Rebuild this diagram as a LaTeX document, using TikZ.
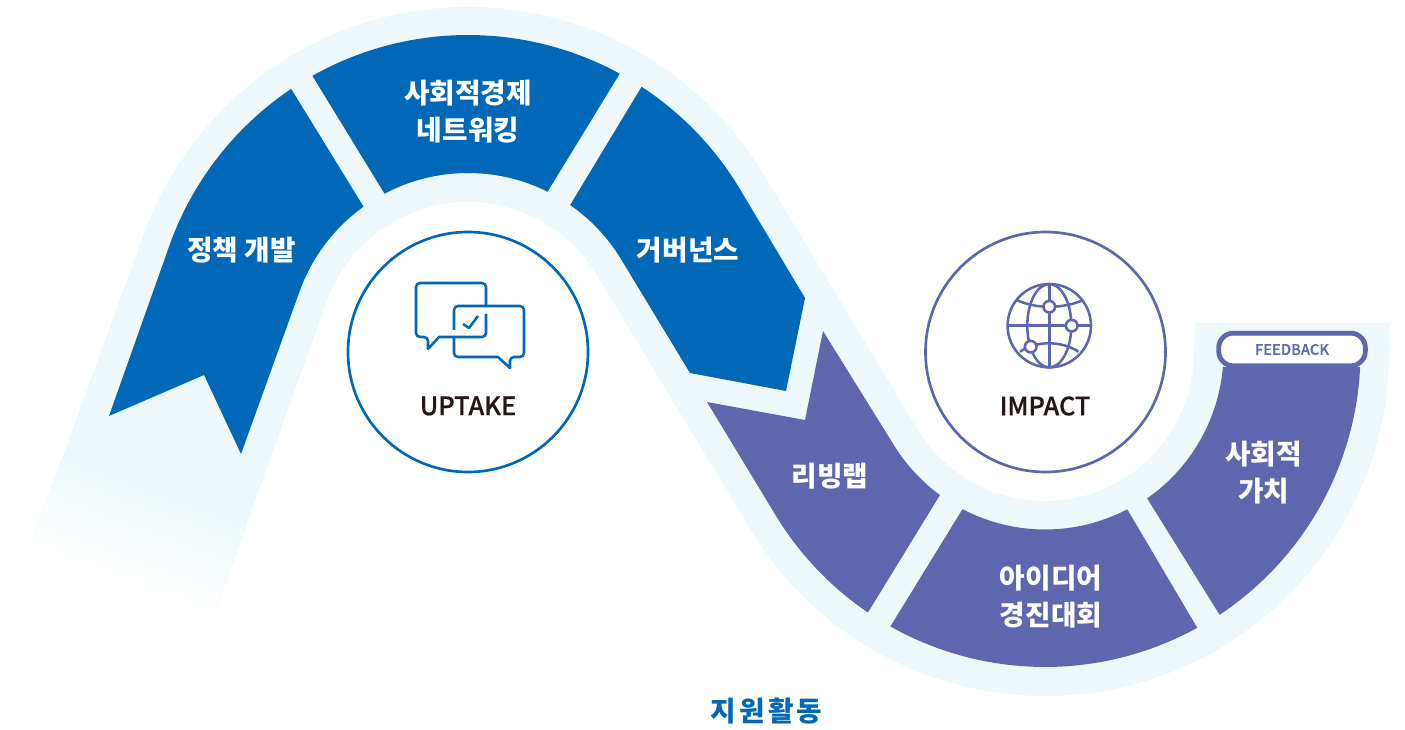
\documentclass[tikz,border=0pt]{standalone}
\usepackage{fontspec}
\newfontfamily\krfont{Noto Sans CJK KR}
\newfontfamily\krmed{Noto Sans CJK KR}[UprightFont=* Medium,FakeBold=0.5]
\newfontfamily\krpill{Noto Sans CJK KR}[UprightFont=* Medium,FakeBold=0.25]
\newfontfamily\krtitle{Noto Sans CJK KR}[LetterSpace=12]
\definecolor{lightband}{HTML}{EEF8FA}
\definecolor{bandblue}{HTML}{0068B7}
\definecolor{bandpurple}{HTML}{5E66AD}
\definecolor{inkdark}{HTML}{231815}
\tikzset{
  seglabel/.style={text=white,font=\krfont\bfseries\fontsize{20.8}{25}\selectfont,align=center,inner sep=0pt},
  headlabel/.style={text=inkdark,font=\krmed\fontsize{19}{23}\selectfont,inner sep=0pt},
  ringblue/.style={draw=bandblue,line width=2pt,fill=white},
  ringpurple/.style={draw=bandpurple,line width=2pt,fill=white},
  iconblue/.style={draw=bandblue,line width=1.9pt,line join=round},
  iconpurple/.style={draw=bandpurple,line width=1.9pt}
}
\begin{document}
\begin{tikzpicture}[x=0.75pt,y=-0.75pt]
\useasboundingbox (0,0) rectangle (1405,730);
\coordinate (c1) at (468,352);
\coordinate (c2) at (1045,352);
% light band
\begin{scope}[shift={(143.8,234)},rotate=-20]
  \foreach \i in {0,...,60}{
    \pgfmathsetmacro\tt{235+\i*101/60}
    \pgfmathsetmacro\pp{100*(1-\i/60)}
    \fill[lightband!\pp!white] (0,\tt) rectangle (196,336);
  }
  \coordinate (bl) at (0,236);
  \coordinate (br) at (196,236);
\end{scope}
\fill[lightband] (bl) -- ([shift={(c1)}]200:345)
  arc[start angle=200,end angle=328.5,radius=345]
  -- ([shift={(c2)}]148.5:149)
  arc[start angle=148.5,end angle=0,radius=149]
  -- (1195,323) -- (1390,323) -- (1389,352)
  arc[start angle=0,end angle=148.5,radius=344]
  -- ([shift={(c1)}]328.5:150)
  arc[start angle=328.5,end angle=200,radius=150]
  -- (br) -- cycle;
% blue segments
\fill[bandblue] ([shift={(c1)}]236.1:317)
  arc[start angle=236.1,end angle=200,radius=317]
  -- (109,416) -- (204,375) -- (241,454)
  -- ([shift={(c1)}]200:179)
  arc[start angle=200,end angle=234.3,radius=179] -- cycle;
\fill[bandblue] ([shift={(c1)}]240.6:317)
  arc[start angle=240.6,end angle=298.6,radius=317]
  -- ([shift={(c1)}]296.4:179)
  arc[start angle=296.4,end angle=242.2,radius=179] -- cycle;
\fill[bandblue] ([shift={(c1)}]303.2:317)
  arc[start angle=303.2,end angle=328.5,radius=317]
  -- (805,298) -- (786,391) -- (690,373)
  -- ([shift={(c1)}]328.5:179)
  arc[start angle=328.5,end angle=304.8,radius=179] -- cycle;
% purple segments
\fill[bandpurple] (823,331)
  -- ([shift={(c2)}]148.5:177.5)
  arc[start angle=148.5,end angle=126.3,radius=177.5]
  -- ([shift={(c2)}]124.2:315)
  arc[start angle=124.2,end angle=148.5,radius=315]
  -- (707,402) -- (805,420) -- cycle;
\fill[bandpurple] ([shift={(c2)}]117.7:177.5)
  arc[start angle=117.7,end angle=62.4,radius=177.5]
  -- ([shift={(c2)}]61.1:315)
  arc[start angle=61.1,end angle=119.4,radius=315] -- cycle;
\fill[bandpurple] ([shift={(c2)}]55.1:178.5)
  arc[start angle=55.1,end angle=4.8,radius=178.5]
  -- ([shift={(c2)}]2.7:315.5)
  arc[start angle=2.7,end angle=56.4,radius=315.5] -- cycle;
% rings
\draw[ringblue] (c1) circle[radius=120];
\draw[ringpurple] (1045.5,352) circle[radius=120];
% chat icon
\draw[iconblue] (486,305) [rounded corners=3] -- (486,283) -- (416,283) -- (416,337) -- (428,337) [sharp corners] -- (428,349) -- (439,337) [rounded corners=3] -- (486,337) -- (486,314);
\draw[iconblue] (454,330) [rounded corners=3] -- (454,306) -- (524,306) -- (524,357) -- (510,357) [sharp corners] -- (510,368) -- (498,357) [rounded corners=3] -- (454,357) -- (454,338);
\draw[iconblue] (463,324) -- (469,328) -- (478,316);
% globe icon
\coordinate (g) at (1049.3,325.7);
\draw[iconpurple] (g) circle[radius=41.7];
\draw[iconpurple] (g) ellipse[x radius=22,y radius=41.7];
\draw[iconpurple] (1007.6,325.7) -- (1091,325.7);
\draw[iconpurple] (1049.3,284) -- (1049.3,367.4);
\draw[iconpurple] (1016.7,300) .. controls (1035,309) and (1063,309) .. (1083.3,300);
\draw[iconpurple] (1020,351.7) .. controls (1036,340.5) and (1062,340.5) .. (1078.3,351.7);
\draw[iconpurple,fill=white] (1049.3,306.7) circle[radius=5.8];
\draw[iconpurple,fill=white] (1071.7,325.7) circle[radius=5.8];
\draw[iconpurple,fill=white] (1030.7,346.7) circle[radius=5.8];
% feedback pill
\node[draw=bandpurple,line width=3.6pt,fill=white,rounded corners=11pt,minimum width=110pt,minimum height=24.5pt,inner sep=0pt,text=bandpurple,font=\krpill\fontsize{11}{13}\selectfont] (feedback) at (1292,349.5) {FEEDBACK};
% labels
\node[seglabel] (policy) at (241.5,250.5) {정책 개발};
\node[seglabel] (network) at (468,111.5) {사회적경제\\[2.5pt]네트워킹};
\node[seglabel] (gov) at (688,250.5) {거버넌스};
\node[seglabel] (lab) at (830,476.5) {리빙랩};
\node[seglabel] (idea) at (1051,596.5) {아이디어\\[2.5pt]경진대회};
\node[seglabel] (value) at (1263.5,472.5) {사회적\\[2.5pt]가치};
\node[headlabel] (uptake) at (468,406) {UPTAKE};
\node[headlabel] (impact) at (1045,406) {IMPACT};
\node[text=bandblue,font=\krtitle\bfseries\fontsize{20.8}{24}\selectfont,inner sep=0pt] (support) at (766.5,711) {지원활동};
\end{tikzpicture}
\end{document}
